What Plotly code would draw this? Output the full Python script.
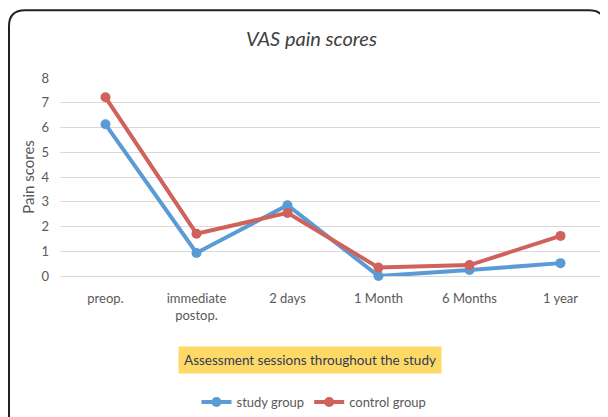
import plotly.graph_objects as go

categories = ["preop.", "immediate<br>postop.", "2 days", "1 Month", "6 Months", "1 year"]
study_group = [6.13, 0.93, 2.86, 0.0, 0.24, 0.52]
control_group = [7.22, 1.71, 2.55, 0.34, 0.44, 1.62]
y_ticks = [0, 1, 2, 3, 4, 5, 6, 7, 8]

# the page body adds an 8px margin; positions below are given in window pixels
OFF = 8
W, H = 608, 417
L = 60 - OFF
T = 78 - OFF
R = W - (606 - OFF)
B = H - (277 - OFF)
pw = W - L - R
ph = H - T - B

def px(x):
    return (x - OFF - L) / pw

def py(y):
    return (H - B - (y - OFF)) / ph

FONT = "Lato, 'Open Sans', sans-serif"
BLUE = "#5B9BD5"
RED = "#D0625C"

fig = go.Figure()
fig.add_trace(go.Scatter(x=categories, y=study_group, name="study group", mode="lines+markers",
                         line=dict(color=BLUE, width=4), marker=dict(size=10, color=BLUE),
                         cliponaxis=False))
fig.add_trace(go.Scatter(x=categories, y=control_group, name="control group", mode="lines+markers",
                         line=dict(color=RED, width=4), marker=dict(size=10, color=RED),
                         cliponaxis=False))

# rounded border
x0, y0, rr = 9, 10, 16
x1, y1 = 605, 440
path = (f"M {px(x0)},{py(y1)} L {px(x0)},{py(y0+rr)} Q {px(x0)},{py(y0)} {px(x0+rr)},{py(y0)} "
        f"L {px(x1-rr)},{py(y0)} Q {px(x1)},{py(y0)} {px(x1)},{py(y0+rr)} L {px(x1)},{py(y1)}")
fig.add_shape(type="path", path=path, xref="paper", yref="paper",
              line=dict(color="#222222", width=2))

fig.add_annotation(text="<i>VAS pain scores</i>", x=px(311), y=py(38), xref="paper", yref="paper",
                   showarrow=False, font=dict(family=FONT, size=20, color="#404040"),
                   xanchor="center", yanchor="middle")

fig.add_annotation(text="Assessment sessions throughout the study", x=px(310), y=py(361),
                   xref="paper", yref="paper", showarrow=False,
                   font=dict(family=FONT, size=13.5, color="#2F3B59"),
                   bgcolor="#FFD966", borderpad=5, xanchor="center", yanchor="middle")

fig.update_layout(
    width=W, height=H,
    margin=dict(l=L, r=R, t=T, b=B),
    paper_bgcolor="white", plot_bgcolor="white",
    font=dict(family=FONT, color="#595959"),
    showlegend=True,
    legend=dict(orientation="h", x=px(314), y=py(402), xanchor="center", yanchor="middle",
                font=dict(family=FONT, size=13, color="#595959"), itemwidth=30,
                tracegroupgap=0),
    xaxis=dict(showgrid=False, showline=False, ticks="", tickfont=dict(size=13, color="#595959"),
               range=[-0.5, 5.5], ticklabelstandoff=13),
    yaxis=dict(range=[0, 8], tickvals=y_ticks, showgrid=True, gridcolor="#D9D9D9", gridwidth=1,
               zeroline=True, zerolinecolor="#D9D9D9", zerolinewidth=1, showline=False,
               tickfont=dict(size=13, color="#595959"), ticklabelstandoff=10,
               title=dict(text="Pain scores", font=dict(size=15, color="#595959"), standoff=3)),
)

fig.write_html("out.html")
